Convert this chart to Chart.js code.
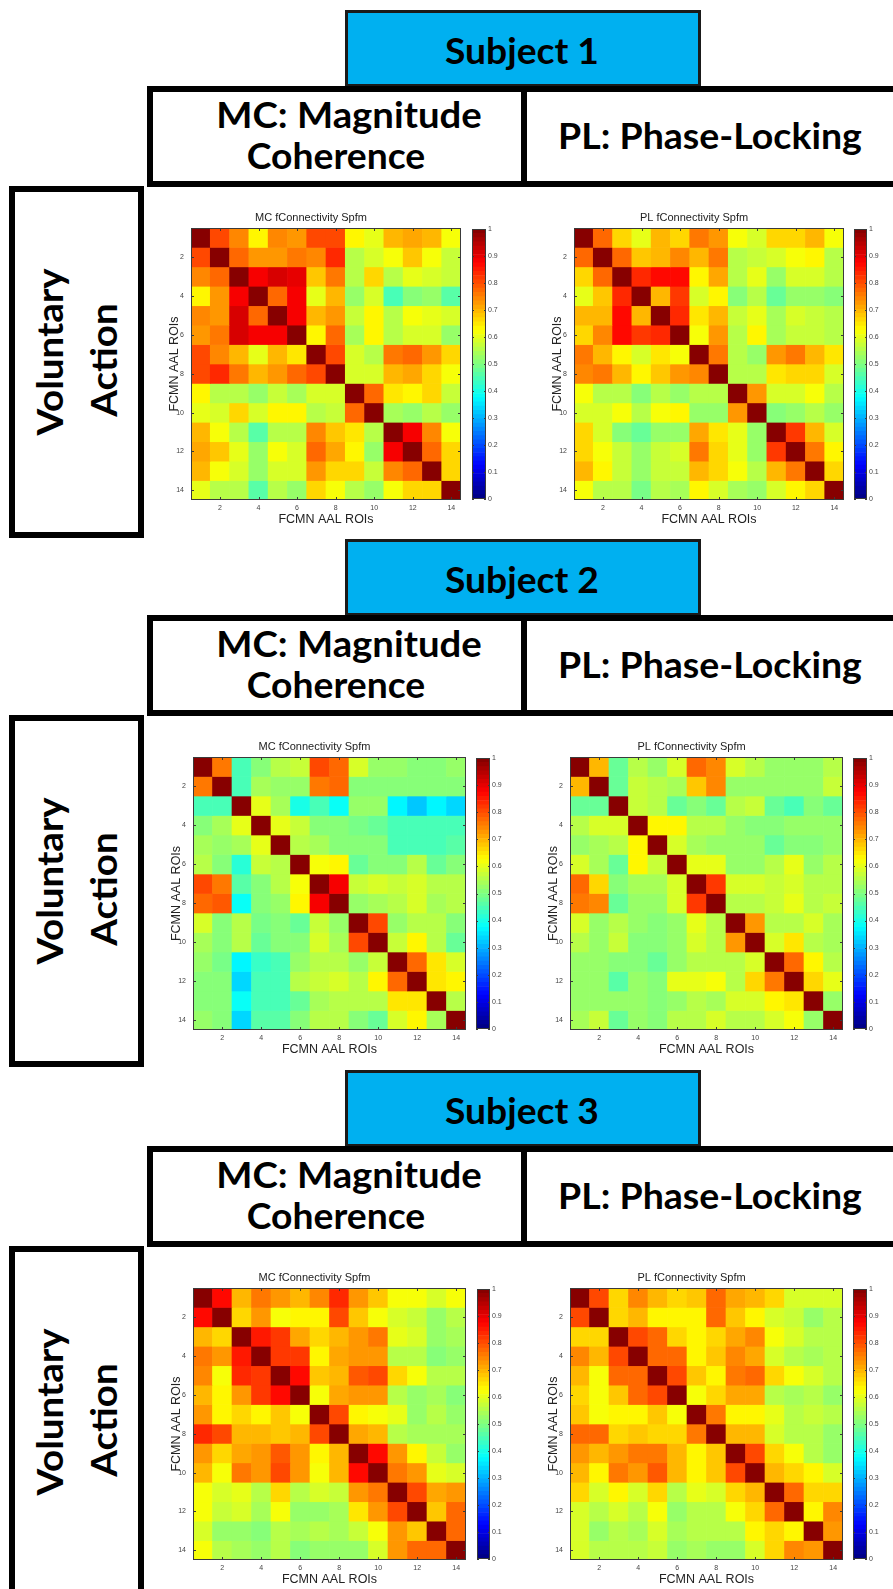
<!DOCTYPE html>
<html>
<head>
<meta charset="utf-8">
<title>fConnectivity Spfm – Voluntary Action</title>
<script src="https://cdn.jsdelivr.net/npm/chart.js@4.4.1/dist/chart.umd.min.js"></script>
<style>
  html, body { margin: 0; padding: 0; background: #fff; }
  #page { position: relative; width: 893px; height: 1589px; overflow: hidden; background: #fff; }
  .box { position: absolute; box-sizing: border-box; border: 6px solid #000; background: #fff; }
  .subj { position: absolute; box-sizing: border-box; border: 3px solid #1a1a1a; background: #00B0F0; }
  .txt { position: absolute; white-space: nowrap; font-family: Lato, "Open Sans", sans-serif;
         font-weight: 700; font-size: 36px; line-height: 36px; color: #000; transform-origin: 50% 50%; }
  canvas { position: absolute; }
</style>
</head>
<body>
<div id="page"></div>
<script>
// ---- ROI axis labels and ticks ----
const ROI_LABELS = ['1','2','3','4','5','6','7','8','9','10','11','12','13','14'];
const ROW_TICKS = [2, 4, 6, 8, 10, 12, 14];
const COLORBAR_TICKS = [0, 0.1, 0.2, 0.3, 0.4, 0.5, 0.6, 0.7, 0.8, 0.9, 1];

// ---- Subject 1 ----
const MC_S1 = [
  [1.00,0.80,0.74,0.63,0.74,0.73,0.80,0.81,0.63,0.60,0.70,0.71,0.70,0.61],
  [0.80,1.00,0.78,0.72,0.73,0.76,0.74,0.84,0.55,0.58,0.62,0.68,0.61,0.57],
  [0.74,0.78,1.00,0.88,0.92,0.90,0.68,0.76,0.56,0.67,0.56,0.60,0.58,0.57],
  [0.63,0.72,0.88,1.00,0.78,0.88,0.60,0.70,0.52,0.59,0.45,0.50,0.52,0.46],
  [0.74,0.73,0.92,0.78,1.00,0.88,0.69,0.73,0.57,0.63,0.56,0.62,0.60,0.58],
  [0.73,0.76,0.92,0.89,0.89,1.00,0.64,0.77,0.54,0.63,0.55,0.58,0.58,0.52],
  [0.81,0.74,0.69,0.60,0.69,0.65,1.00,0.80,0.58,0.55,0.76,0.78,0.72,0.66],
  [0.81,0.84,0.76,0.70,0.73,0.77,0.80,1.00,0.58,0.58,0.69,0.71,0.66,0.62],
  [0.63,0.55,0.56,0.52,0.57,0.54,0.58,0.58,1.00,0.78,0.65,0.64,0.67,0.57],
  [0.60,0.58,0.67,0.59,0.63,0.63,0.55,0.57,0.78,1.00,0.54,0.53,0.55,0.52],
  [0.70,0.62,0.56,0.46,0.56,0.56,0.74,0.68,0.65,0.55,1.00,0.88,0.74,0.62],
  [0.71,0.68,0.60,0.52,0.61,0.59,0.78,0.71,0.64,0.53,0.88,1.00,0.78,0.67],
  [0.70,0.61,0.58,0.52,0.59,0.58,0.72,0.66,0.66,0.57,0.74,0.77,1.00,0.66],
  [0.60,0.56,0.55,0.46,0.56,0.52,0.66,0.61,0.55,0.52,0.61,0.67,0.66,1.00]
];
const PL_S1 = [
  [1.00,0.77,0.67,0.60,0.70,0.67,0.76,0.73,0.61,0.58,0.66,0.67,0.70,0.61],
  [0.77,1.00,0.77,0.68,0.70,0.74,0.70,0.75,0.56,0.57,0.58,0.62,0.63,0.56],
  [0.67,0.77,1.00,0.83,0.86,0.86,0.64,0.71,0.56,0.60,0.52,0.58,0.58,0.56],
  [0.60,0.68,0.83,1.00,0.70,0.82,0.58,0.64,0.50,0.56,0.47,0.52,0.53,0.50],
  [0.70,0.70,0.86,0.70,1.00,0.84,0.65,0.69,0.57,0.60,0.54,0.58,0.57,0.56],
  [0.67,0.74,0.86,0.82,0.84,1.00,0.62,0.72,0.55,0.63,0.54,0.57,0.57,0.55],
  [0.76,0.70,0.64,0.58,0.65,0.62,1.00,0.75,0.56,0.53,0.72,0.76,0.69,0.65],
  [0.74,0.76,0.70,0.64,0.68,0.72,0.74,1.00,0.56,0.55,0.65,0.66,0.66,0.59],
  [0.61,0.56,0.55,0.50,0.56,0.53,0.56,0.56,1.00,0.72,0.58,0.58,0.62,0.55],
  [0.58,0.58,0.61,0.56,0.61,0.63,0.52,0.53,0.72,1.00,0.50,0.52,0.56,0.52],
  [0.66,0.58,0.51,0.47,0.53,0.53,0.71,0.65,0.60,0.52,1.00,0.82,0.70,0.58],
  [0.67,0.62,0.57,0.52,0.57,0.58,0.76,0.67,0.60,0.53,0.82,1.00,0.75,0.63],
  [0.70,0.63,0.57,0.53,0.57,0.57,0.69,0.66,0.62,0.56,0.70,0.75,1.00,0.67],
  [0.61,0.56,0.55,0.49,0.55,0.54,0.64,0.58,0.54,0.52,0.58,0.63,0.67,1.00]
];

// ---- Subject 2 ----
const MC_S2 = [
  [1.00,0.75,0.44,0.50,0.55,0.57,0.81,0.77,0.58,0.53,0.53,0.50,0.50,0.53],
  [0.75,1.00,0.45,0.54,0.53,0.52,0.75,0.78,0.51,0.51,0.50,0.50,0.50,0.51],
  [0.44,0.45,1.00,0.60,0.54,0.40,0.44,0.38,0.53,0.53,0.37,0.32,0.37,0.33],
  [0.50,0.54,0.60,1.00,0.60,0.57,0.50,0.50,0.49,0.48,0.44,0.45,0.45,0.45],
  [0.54,0.52,0.54,0.60,1.00,0.55,0.54,0.51,0.50,0.50,0.45,0.45,0.45,0.46],
  [0.56,0.51,0.41,0.57,0.55,1.00,0.61,0.63,0.47,0.50,0.50,0.56,0.48,0.50],
  [0.81,0.75,0.46,0.51,0.55,0.61,1.00,0.88,0.57,0.59,0.57,0.58,0.56,0.55],
  [0.77,0.79,0.38,0.50,0.52,0.63,0.88,1.00,0.52,0.54,0.56,0.59,0.54,0.55],
  [0.58,0.51,0.55,0.49,0.50,0.47,0.57,0.52,1.00,0.80,0.53,0.55,0.56,0.50],
  [0.54,0.50,0.55,0.48,0.50,0.51,0.59,0.54,0.80,1.00,0.57,0.63,0.56,0.48],
  [0.53,0.49,0.36,0.43,0.44,0.52,0.56,0.56,0.53,0.57,1.00,0.78,0.65,0.58],
  [0.50,0.50,0.33,0.44,0.44,0.55,0.57,0.59,0.55,0.63,0.78,1.00,0.65,0.63],
  [0.50,0.50,0.38,0.45,0.45,0.48,0.54,0.55,0.55,0.56,0.65,0.65,1.00,0.55],
  [0.53,0.51,0.33,0.46,0.46,0.51,0.56,0.56,0.50,0.48,0.58,0.63,0.54,1.00]
];
const PL_S2 = [
  [1.00,0.70,0.47,0.55,0.53,0.58,0.77,0.74,0.59,0.55,0.52,0.53,0.53,0.55],
  [0.70,1.00,0.48,0.57,0.55,0.54,0.68,0.74,0.53,0.52,0.53,0.53,0.52,0.57],
  [0.47,0.48,1.00,0.57,0.56,0.47,0.50,0.48,0.55,0.57,0.47,0.45,0.51,0.47],
  [0.55,0.58,0.58,1.00,0.63,0.63,0.55,0.55,0.52,0.51,0.51,0.52,0.53,0.52],
  [0.53,0.54,0.55,0.63,1.00,0.58,0.54,0.52,0.52,0.52,0.48,0.50,0.50,0.52],
  [0.58,0.54,0.47,0.63,0.57,1.00,0.60,0.60,0.53,0.53,0.55,0.60,0.53,0.55],
  [0.77,0.67,0.50,0.54,0.54,0.59,1.00,0.82,0.59,0.59,0.57,0.58,0.56,0.55],
  [0.75,0.74,0.48,0.53,0.52,0.59,0.82,1.00,0.55,0.56,0.57,0.60,0.56,0.57],
  [0.59,0.53,0.55,0.52,0.51,0.52,0.60,0.55,1.00,0.73,0.55,0.56,0.58,0.54],
  [0.56,0.52,0.57,0.51,0.51,0.52,0.59,0.55,0.73,1.00,0.58,0.65,0.56,0.54],
  [0.52,0.53,0.50,0.51,0.47,0.53,0.55,0.56,0.55,0.58,1.00,0.77,0.64,0.56],
  [0.53,0.52,0.46,0.52,0.50,0.60,0.60,0.61,0.55,0.66,0.76,1.00,0.66,0.60],
  [0.53,0.52,0.52,0.53,0.50,0.53,0.55,0.54,0.59,0.59,0.63,0.65,1.00,0.53],
  [0.54,0.57,0.47,0.52,0.51,0.56,0.56,0.58,0.55,0.55,0.58,0.62,0.53,1.00]
];

// ---- Subject 3 ----
const MC_S3 = [
  [1.00,0.87,0.70,0.76,0.73,0.70,0.74,0.84,0.73,0.68,0.62,0.62,0.59,0.62],
  [0.87,1.00,0.66,0.72,0.62,0.63,0.63,0.80,0.68,0.62,0.58,0.57,0.52,0.55],
  [0.70,0.66,1.00,0.85,0.82,0.71,0.67,0.70,0.72,0.76,0.60,0.58,0.53,0.54],
  [0.76,0.72,0.85,1.00,0.82,0.82,0.63,0.71,0.73,0.73,0.55,0.55,0.51,0.53],
  [0.74,0.61,0.83,0.82,1.00,0.86,0.68,0.69,0.79,0.81,0.66,0.62,0.56,0.55],
  [0.70,0.63,0.72,0.82,0.86,1.00,0.62,0.71,0.73,0.73,0.56,0.53,0.54,0.50],
  [0.73,0.63,0.67,0.63,0.68,0.62,1.00,0.80,0.64,0.62,0.60,0.52,0.56,0.52],
  [0.84,0.80,0.70,0.70,0.68,0.70,0.80,1.00,0.71,0.69,0.56,0.54,0.54,0.54],
  [0.73,0.67,0.71,0.73,0.79,0.72,0.63,0.70,1.00,0.87,0.73,0.64,0.57,0.53],
  [0.69,0.62,0.76,0.73,0.81,0.73,0.62,0.70,0.87,1.00,0.75,0.73,0.60,0.59],
  [0.62,0.58,0.60,0.55,0.66,0.56,0.59,0.57,0.73,0.75,1.00,0.80,0.71,0.72],
  [0.62,0.57,0.58,0.54,0.62,0.53,0.52,0.54,0.65,0.73,0.80,1.00,0.68,0.77],
  [0.59,0.52,0.52,0.51,0.56,0.54,0.56,0.54,0.57,0.62,0.72,0.68,1.00,0.77],
  [0.61,0.55,0.54,0.53,0.55,0.50,0.52,0.53,0.53,0.59,0.72,0.77,0.77,1.00]
];
const PL_S3 = [
  [1.00,0.80,0.67,0.74,0.69,0.67,0.68,0.77,0.71,0.70,0.66,0.59,0.58,0.58],
  [0.80,1.00,0.66,0.70,0.63,0.63,0.63,0.77,0.68,0.63,0.59,0.57,0.52,0.55],
  [0.67,0.66,1.00,0.80,0.77,0.67,0.64,0.66,0.71,0.74,0.62,0.58,0.56,0.56],
  [0.74,0.70,0.80,1.00,0.78,0.78,0.63,0.68,0.74,0.71,0.58,0.55,0.54,0.55],
  [0.70,0.62,0.77,0.78,1.00,0.81,0.68,0.64,0.75,0.78,0.67,0.61,0.58,0.56],
  [0.67,0.62,0.68,0.78,0.81,1.00,0.62,0.66,0.71,0.71,0.55,0.54,0.55,0.53],
  [0.68,0.62,0.64,0.64,0.68,0.62,1.00,0.76,0.64,0.64,0.60,0.55,0.57,0.55],
  [0.78,0.77,0.67,0.68,0.66,0.66,0.76,1.00,0.69,0.69,0.58,0.55,0.55,0.53],
  [0.72,0.69,0.72,0.75,0.76,0.70,0.64,0.68,1.00,0.80,0.67,0.61,0.56,0.53],
  [0.70,0.63,0.75,0.72,0.79,0.70,0.64,0.68,0.80,1.00,0.70,0.67,0.63,0.59],
  [0.66,0.58,0.63,0.58,0.66,0.55,0.60,0.58,0.67,0.70,1.00,0.78,0.67,0.67],
  [0.59,0.56,0.58,0.55,0.61,0.53,0.55,0.55,0.61,0.67,0.78,1.00,0.63,0.74],
  [0.58,0.52,0.56,0.54,0.58,0.54,0.56,0.55,0.56,0.63,0.67,0.63,1.00,0.72],
  [0.58,0.55,0.56,0.55,0.57,0.53,0.54,0.53,0.53,0.59,0.67,0.74,0.72,1.00]
];

const SUBJECT_TITLES = ['Subject 1', 'Subject 2', 'Subject 3'];

// ---- page layout (pixels) ----
const SECTIONS = [
  { dy: 0,    mc: [191, 228, 461, 500],   mcBar: [472, 486], pl: [574, 228, 844, 500],   plBar: [854, 867], mcData: MC_S1, plData: PL_S1 },
  { dy: 529,  mc: [193, 757, 466, 1030],  mcBar: [476, 490], pl: [570, 757, 843, 1030],  plBar: [853, 867], mcData: MC_S2, plData: PL_S2 },
  { dy: 1060, mc: [193, 1288, 466, 1560], mcBar: [477, 490], pl: [570, 1288, 843, 1560], plBar: [853, 867], mcData: MC_S3, plData: PL_S3 }
];

const AX_FONT = '"Liberation Sans", Arial, sans-serif';
const page = document.getElementById('page');

// MATLAB-style jet colormap with 64 levels
function jet(v) {
  const q = Math.max(0, Math.min(63, Math.floor(v * 64)));
  const t = (q + 0.5) / 64;
  const ch = c => Math.round(255 * Math.max(0, Math.min(1, 1.5 - Math.abs(4 * t - c))));
  return `rgb(${ch(3)},${ch(2)},${ch(1)})`;
}

function strokeFrame(ctx, a) {
  ctx.strokeRect(Math.round(a.left) + 0.5, Math.round(a.top) + 0.5,
                 Math.round(a.right - a.left) - 1, Math.round(a.bottom - a.top) - 1);
}

// axes box with short inward tick marks on all four sides
const heatFrame = {
  id: 'heatFrame',
  afterDatasetsDraw(chart) {
    const { ctx, chartArea: a, scales: { x, y } } = chart;
    ctx.save();
    ctx.strokeStyle = '#3a3a3a';
    ctx.lineWidth = 1;
    strokeFrame(ctx, a);
    ctx.beginPath();
    ROW_TICKS.forEach(v => {
      const px = Math.round(x.getPixelForValue(v - 1)) + 0.5;
      ctx.moveTo(px, a.top); ctx.lineTo(px, a.top + 3);
      ctx.moveTo(px, a.bottom); ctx.lineTo(px, a.bottom - 3);
      const py = Math.round(y.getPixelForValue(v)) + 0.5;
      ctx.moveTo(a.left, py); ctx.lineTo(a.left + 3, py);
      ctx.moveTo(a.right, py); ctx.lineTo(a.right - 3, py);
    });
    ctx.stroke();
    ctx.restore();
  }
};

const barFrame = {
  id: 'barFrame',
  afterDatasetsDraw(chart) {
    const { ctx, chartArea: a, scales: { y } } = chart;
    ctx.save();
    ctx.strokeStyle = '#3a3a3a';
    ctx.lineWidth = 1;
    strokeFrame(ctx, a);
    ctx.beginPath();
    COLORBAR_TICKS.forEach(v => {
      const py = Math.round(y.getPixelForValue(v)) + 0.5;
      ctx.moveTo(a.left, py); ctx.lineTo(a.left + 2, py);
      ctx.moveTo(a.right, py); ctx.lineTo(a.right - 2, py);
    });
    ctx.stroke();
    ctx.restore();
  }
};

function makeCanvas(left, top, width, height) {
  const c = document.createElement('canvas');
  c.width = width; c.height = height;
  c.style.left = left + 'px'; c.style.top = top + 'px';
  c.style.width = width + 'px'; c.style.height = height + 'px';
  page.appendChild(c);
  return c;
}

function box(cls, l, t, r, b) {
  const d = document.createElement('div');
  d.className = cls;
  d.style.left = l + 'px'; d.style.top = t + 'px';
  d.style.width = (r - l) + 'px'; d.style.height = (b - t) + 'px';
  page.appendChild(d);
}

const textJobs = [];
function text(str, cx, cy, targetW, rotated, scaleFrom) {
  const el = document.createElement('div');
  el.className = 'txt';
  el.textContent = str;
  page.appendChild(el);
  const job = { el, cx, cy, targetW, rotated, scaleFrom, k: 1 };
  textJobs.push(job);
  return job;
}
function layoutText() {
  textJobs.forEach(j => { j.el.style.transform = 'none'; });
  textJobs.forEach(j => {
    const w = j.el.offsetWidth;
    j.k = j.targetW ? j.targetW / w : (j.scaleFrom ? j.scaleFrom.k : 1);
    j.el.style.left = (j.rotated ? j.cx - 1 : j.cx) + 'px';
    j.el.style.top = (j.rotated ? j.cy : j.cy - 1) + 'px';
    j.el.style.transform =
      `translate(-50%,-50%)${j.rotated ? ' rotate(-90deg)' : ''} scaleX(${j.k.toFixed(4)})`;
  });
}

function heatmap(rect, matrix, title) {
  const [L, T, R, B] = rect;
  const W = R - L, H = B - T;
  const canvas = makeCanvas(L - 30, T - 28, W + 60, H + 58);
  const datasets = matrix.map((row, r) => ({
    data: row.map(() => [r + 0.5, r + 1.5]),
    backgroundColor: row.map(jet),
    borderWidth: 0,
    barPercentage: 1,
    categoryPercentage: 1,
    grouped: false
  }));
  new Chart(canvas, {
    type: 'bar',
    data: { labels: ROI_LABELS, datasets },
    options: {
      responsive: false, animation: false, devicePixelRatio: 1,
      layout: { padding: { left: 0, right: 30, top: 0, bottom: 0 } },
      plugins: {
        legend: { display: false }, tooltip: { enabled: false },
        title: { display: true, text: title, color: '#222',
                 font: { family: AX_FONT, size: 11, weight: 'normal', lineHeight: '14px' },
                 padding: { top: 11, bottom: 3 } }
      },
      scales: {
        x: {
          type: 'category',
          afterFit: s => { s.height = 30; },
          grid: { display: false, drawTicks: false },
          border: { display: false },
          ticks: { autoSkip: false, maxRotation: 0, minRotation: 0, padding: 4, color: '#444',
                   font: { family: AX_FONT, size: 7 },
                   callback: (v, i) => (i % 2 === 1 ? ROI_LABELS[i] : '') },
          title: { display: true, text: 'FCMN AAL ROIs', color: '#222',
                   font: { family: AX_FONT, size: 12.5, lineHeight: '14px' },
                   padding: { top: 0, bottom: 3 } }
        },
        y: {
          type: 'linear', min: 0.5, max: 14.5, reverse: true,
          afterBuildTicks: s => { s.ticks = ROW_TICKS.map(v => ({ value: v })); },
          afterFit: s => { s.width = 30; },
          grid: { display: false, drawTicks: false },
          border: { display: false },
          ticks: { autoSkip: false, padding: 7, color: '#444',
                   font: { family: AX_FONT, size: 7 }, callback: v => String(v) },
          title: { display: true, text: 'FCMN AAL ROIs', color: '#222',
                   font: { family: AX_FONT, size: 12.5, lineHeight: '14px' },
                   padding: { top: 7, bottom: 0 } }
        }
      }
    },
    plugins: [heatFrame]
  });
}

function colorbar(barX, T, B) {
  const [L, R] = barX;
  const W = R - L, H = B - T;
  const canvas = makeCanvas(L, T - 5, W + 22, H + 10);
  const levels = Array.from({ length: 64 }, (_, i) => i);
  new Chart(canvas, {
    type: 'bar',
    data: {
      labels: [''],
      datasets: levels.map(i => ({
        data: [[i / 64, (i + 1) / 64]],
        backgroundColor: jet((i + 0.5) / 64),
        borderWidth: 0, barPercentage: 1, categoryPercentage: 1, grouped: false
      }))
    },
    options: {
      responsive: false, animation: false, devicePixelRatio: 1,
      layout: { padding: { left: 0, right: 0, top: 5, bottom: 5 } },
      plugins: { legend: { display: false }, tooltip: { enabled: false }, title: { display: false } },
      scales: {
        x: { display: false },
        y: {
          position: 'right', min: 0, max: 1,
          afterBuildTicks: s => { s.ticks = COLORBAR_TICKS.map(v => ({ value: v })); },
          afterFit: s => { s.width = 22; },
          grid: { display: false, drawTicks: false },
          border: { display: false },
          ticks: { autoSkip: false, padding: 2, color: '#444',
                   font: { family: AX_FONT, size: 7 }, callback: v => String(v) }
        }
      }
    },
    plugins: [barFrame]
  });
}

// ---- build the three subject panels ----
SECTIONS.forEach((s, idx) => {
  const dy = s.dy;
  box('subj', 345, 10 + dy, 701, 87 + dy);
  box('box', 147, 86 + dy, 527, 187 + dy);
  box('box', 521, 86 + dy, 905, 187 + dy);
  box('box', 9, 186 + dy, 144, 538 + dy);

  text(SUBJECT_TITLES[idx], 522, 51 + dy, 154, false);
  text('MC: Magnitude', 349, 115 + dy, 265, false);
  text('Coherence', 336, 156 + dy, 178, false);
  text('PL: Phase-Locking', 710, 136 + dy, 304, false);
  const vol = text('Voluntary', 50, 352 + dy, 167, true);
  text('Action', 104, 360 + dy, 0, true, vol);

  heatmap(s.mc, s.mcData, 'MC fConnectivity Spfm');
  colorbar(s.mcBar, s.mc[1], s.mc[3]);
  heatmap(s.pl, s.plData, 'PL fConnectivity Spfm');
  colorbar(s.plBar, s.pl[1], s.pl[3]);
});

// panel labels are condensed to the narrow proportions of the slide lettering
layoutText();
if (document.fonts && document.fonts.ready) {
  document.fonts.ready.then(layoutText);
}
</script>
</body>
</html>
